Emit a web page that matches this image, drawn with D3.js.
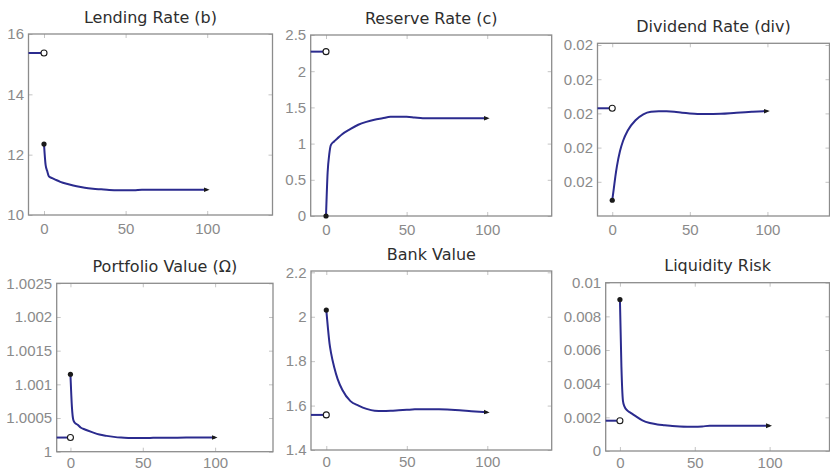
<!DOCTYPE html>
<html>
<head>
<meta charset="utf-8">
<script src="https://cdn.jsdelivr.net/npm/d3@7"></script>
<style>
  body { margin: 0; background: #fff; }
  .title { font-family: "DejaVu Sans", sans-serif; font-size: 16px; fill: #2e2e2e; }
  .tick text { font-family: "Liberation Sans", Arial, sans-serif; font-size: 15px; fill: #8a8a8a; }
  .tick line { stroke: #c4c4c4; }
</style>
</head>
<body>
<div id="chart"></div>
<script>
// time grid of the impulse responses
var times = [0, 1, 2, 3, 5, 7, 10, 15, 20, 25, 30, 35, 40, 45, 50, 55, 60, 70, 80, 90, 100];

var lendingRate = [12.35, 11.65, 11.45, 11.28, 11.22, 11.17, 11.1, 11.02, 10.95, 10.9, 10.87, 10.85, 10.83, 10.82, 10.82, 10.82, 10.84, 10.84, 10.84, 10.84, 10.84];
var reserveRate = [0, 0.6, 0.85, 0.98, 1.03, 1.07, 1.13, 1.2, 1.26, 1.3, 1.33, 1.35, 1.37, 1.37, 1.37, 1.36, 1.35, 1.35, 1.35, 1.35, 1.35];
var dividendRate = [0.019492, 0.01956, 0.01963, 0.01969, 0.01978, 0.01984, 0.0199, 0.01996, 0.019995, 0.02001, 0.020013, 0.020012, 0.020009, 0.020004, 0.02, 0.019997, 0.019996, 0.019998, 0.020004, 0.020009, 0.020014];
var portfolioValue = [1.00115, 1.00067, 1.00047, 1.00043, 1.0004, 1.00036, 1.00033, 1.00029, 1.000255, 1.000235, 1.00022, 1.00021, 1.000205, 1.000203, 1.000203, 1.000205, 1.000207, 1.000208, 1.00021, 1.00021, 1.00021];
var bankValue = [2.03, 1.95, 1.88, 1.835, 1.77, 1.72, 1.67, 1.62, 1.6, 1.585, 1.577, 1.576, 1.577, 1.579, 1.581, 1.583, 1.584, 1.583, 1.58, 1.575, 1.57];
var liquidityRisk = [0.009, 0.005, 0.003, 0.00265, 0.0024, 0.00228, 0.0021, 0.00182, 0.00166, 0.00158, 0.00153, 0.00148, 0.00145, 0.00144, 0.00144, 0.00146, 0.0015, 0.0015, 0.0015, 0.0015, 0.0015];

// pre-shock steady state values
var preShock = [15.37, 2.27, 0.02003, 1.00021, 1.558, 0.0018];

var titles = ["Lending Rate (b)", "Reserve Rate (c)", "Dividend Rate (div)", "Portfolio Value (\u03A9)", "Bank Value", "Liquidity Risk"];

var xTicks = [0, 50, 100];
var xDomain = [-9.5, 140];

var yTicks = [
    [10, 12, 14, 16],
    [0, 0.5, 1, 1.5, 2, 2.5],
    [0.0196, 0.0198, 0.02, 0.0202, 0.0204],
    [1, 1.0005, 1.001, 1.0015, 1.002, 1.0025],
    [1.4, 1.6, 1.8, 2, 2.2],
    [0, 0.002, 0.004, 0.006, 0.008, 0.01]
];
var yTickLabels = [
    ["10", "12", "14", "16"],
    ["0", "0.5", "1", "1.5", "2", "2.5"],
    ["0.02", "0.02", "0.02", "0.02", "0.02"],
    ["1", "1.0005", "1.001", "1.0015", "1.002", "1.0025"],
    ["1.4", "1.6", "1.8", "2", "2.2"],
    ["0", "0.002", "0.004", "0.006", "0.008", "0.01"]
];
var yDomains = [[10, 16], [0, 2.5], [0.0194, 0.02041], [1, 1.0025], [1.4, 2.206], [0, 0.01]];

var series = [lendingRate, reserveRate, dividendRate, portfolioValue, bankValue, liquidityRisk];

// plot frames in pixels (left, top, right, bottom)
var frames = [
    [28.5, 34, 272.5, 215],
    [310.7, 35, 551.7, 216],
    [597.5, 43.3, 829.5, 216],
    [56.7, 283.3, 273, 451.7],
    [311, 271, 551.7, 450],
    [605.7, 282.7, 829.5, 451]
];

var svgW = 830, svgH = 471;
var lineColor = "#2b2b8e";

var svg = d3.select("#chart").append("svg")
    .attr("width", svgW)
    .attr("height", svgH);

var defs = svg.append("defs");
defs.append("marker")
    .attr("id", "arrow")
    .attr("viewBox", "0 0 10 10")
    .attr("refX", 6)
    .attr("refY", 5)
    .attr("markerWidth", 6)
    .attr("markerHeight", 6)
    .attr("markerUnits", "userSpaceOnUse")
    .attr("orient", "auto")
    .append("path")
    .attr("d", "M0,1L10,5L0,9Z")
    .attr("fill", "#1a1a1a");

series.forEach(function(values, i) {
    var f = frames[i];
    var g = svg.append("g");

    var x = d3.scaleLinear().domain(xDomain).range([f[0], f[2]]);
    var y = d3.scaleLinear().domain(yDomains[i]).range([f[3], f[1]]);

    // axes with inward ticks
    g.append("g")
        .attr("transform", "translate(0," + f[3] + ")")
        .call(d3.axisBottom(x).tickValues(xTicks).tickSize(-4).tickPadding(i < 3 ? 8 : 6))
        .call(function(a) { a.select(".domain").remove(); });
    g.append("g")
        .attr("transform", "translate(0," + f[1] + ")")
        .call(d3.axisTop(x).tickValues(xTicks).tickSize(-4).tickFormat(""))
        .call(function(a) { a.select(".domain").remove(); });
    g.append("g")
        .attr("transform", "translate(" + f[0] + ",0)")
        .call(d3.axisLeft(y).tickValues(yTicks[i]).tickSize(-4).tickPadding(4.5)
            .tickFormat(function(d, j) { return yTickLabels[i][j]; }))
        .call(function(a) { a.select(".domain").remove(); });
    g.append("g")
        .attr("transform", "translate(" + f[2] + ",0)")
        .call(d3.axisRight(y).tickValues(yTicks[i]).tickSize(-4).tickFormat(""))
        .call(function(a) { a.select(".domain").remove(); });

    g.append("rect")
        .attr("x", f[0])
        .attr("y", f[1])
        .attr("width", f[2] - f[0])
        .attr("height", f[3] - f[1])
        .attr("fill", "none")
        .attr("stroke", "#8c8c8c")
        .attr("stroke-width", 1.3);

    g.append("text")
        .attr("class", "title")
        .attr("x", (f[0] + f[2]) / 2)
        .attr("y", f[1] - 17)
        .attr("dy", "0.35em")
        .attr("text-anchor", "middle")
        .text(titles[i]);

    // pre-shock steady state
    g.append("line")
        .attr("x1", x(xDomain[0]))
        .attr("x2", x(0))
        .attr("y1", y(preShock[i]))
        .attr("y2", y(preShock[i]))
        .attr("stroke", lineColor)
        .attr("stroke-width", 2);

    var line = d3.line()
        .x(function(d, j) { return x(times[j]); })
        .y(function(d) { return y(d); })
        .curve(d3.curveMonotoneX);

    g.append("path")
        .datum(values)
        .attr("d", line)
        .attr("fill", "none")
        .attr("stroke", lineColor)
        .attr("stroke-width", 2)
        .attr("marker-end", "url(#arrow)");

    g.append("circle")
        .attr("cx", x(0))
        .attr("cy", y(preShock[i]))
        .attr("r", 3)
        .attr("fill", "#fff")
        .attr("stroke", "#1a1a1a")
        .attr("stroke-width", 1.1);

    g.append("circle")
        .attr("cx", x(0))
        .attr("cy", y(values[0]))
        .attr("r", 2.6)
        .attr("fill", "#1a1a1a");
});
</script>
</body>
</html>
